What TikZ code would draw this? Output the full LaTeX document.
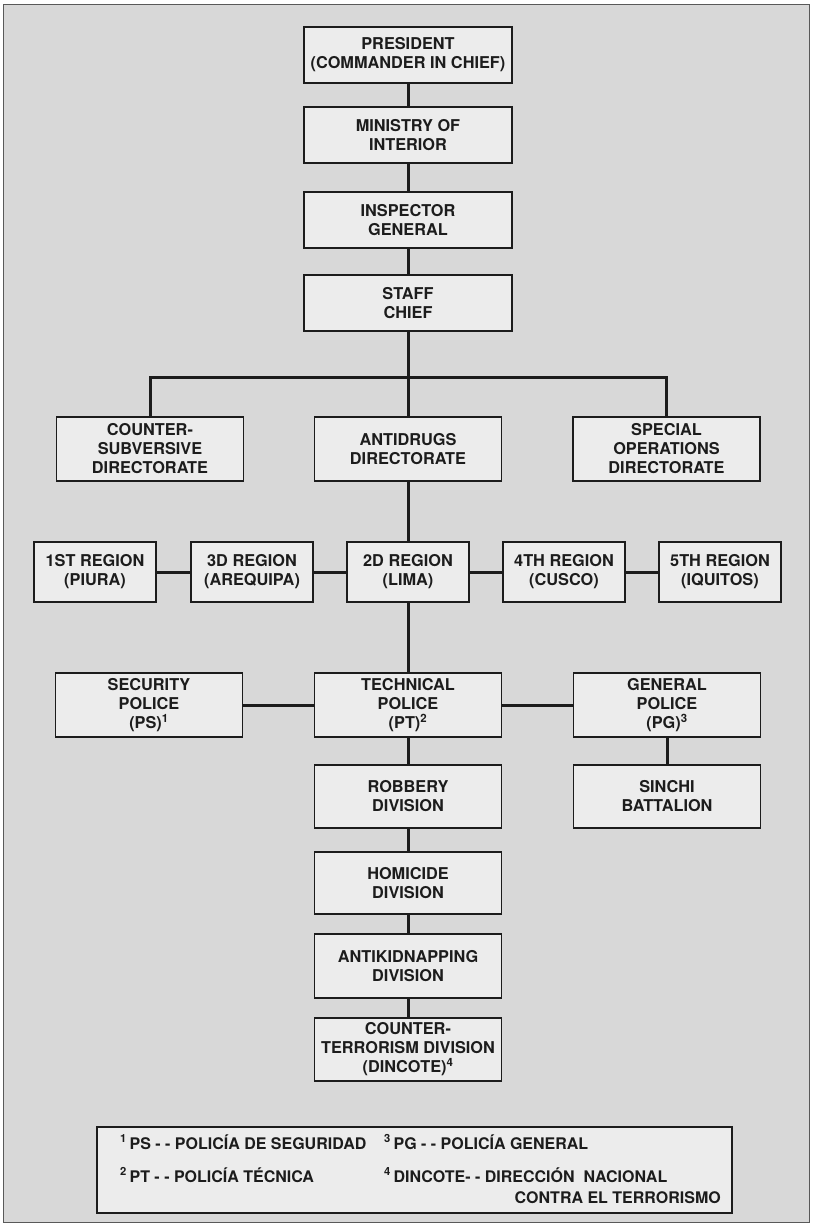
\documentclass[tikz,border=0pt]{standalone}
\usepackage{fontspec}
\setmainfont{TeX Gyre Heros}
\definecolor{bg}{RGB}{216,216,216}
\definecolor{boxfill}{RGB}{236,236,236}
\definecolor{ink}{RGB}{28,28,28}
\begin{document}
\begin{tikzpicture}[x=1pt,y=-1pt,
  box/.style={draw=ink, line width=1.6pt, fill=boxfill, align=center, inner sep=0pt,
    font=\fontsize{16.3}{19}\selectfont\bfseries, text=ink},
  wide/.style={box, minimum width=208pt, minimum height=56pt},
  mid/.style={box, minimum width=187pt},
  reg/.style={box, minimum width=122pt, minimum height=60pt},
  conn/.style={line width=3pt, draw=ink},
  lgtext/.style={font=\fontsize{16}{19}\selectfont\bfseries, text=ink, inner sep=0pt},
]
\useasboundingbox (0,0) rectangle (814,1226);
\fill[white] (0,0) rectangle (814,1226);
\draw[fill=bg, draw=black!65, line width=0.9pt] (3,4) rectangle (809,1222);

% top column
\node[wide] (pres) at (408,55) {PRESIDENT\\(COMMANDER IN CHIEF)};
\node[wide] (min) at (408,135) {MINISTRY OF\\INTERIOR};
\node[wide] (insp) at (408,220) {INSPECTOR\\GENERAL};
\node[wide] (staff) at (408,303) {STAFF\\CHIEF};

% directorates
\node[mid, minimum height=64pt] (cs) at (150,449) {COUNTER-\\SUBVERSIVE\\DIRECTORATE};
\node[mid, minimum height=64pt] (ad) at (408,449) {ANTIDRUGS\\DIRECTORATE};
\node[mid, minimum height=64pt] (sp) at (666.5,449) {SPECIAL\\OPERATIONS\\DIRECTORATE};

% regions
\node[reg] (r1) at (95,572) {1ST REGION\\(PIURA)};
\node[reg] (r3) at (252,572) {3D REGION\\(AREQUIPA)};
\node[reg] (r2) at (408,572) {2D REGION\\(LIMA)};
\node[reg] (r4) at (564,572) {4TH REGION\\(CUSCO)};
\node[reg] (r5) at (720,572) {5TH REGION\\(IQUITOS)};

% police
\node[mid, minimum height=64pt] (sec) at (149,705) {SECURITY\\POLICE\\(PS)\textsuperscript{1}};
\node[mid, minimum height=64pt] (tech) at (408,705) {TECHNICAL\\POLICE\\(PT)\textsuperscript{2}};
\node[mid, minimum height=64pt] (gen) at (667,705) {GENERAL\\POLICE\\(PG)\textsuperscript{3}};

% divisions
\node[mid, minimum height=63pt] (rob) at (408,796.5) {ROBBERY\\DIVISION};
\node[mid, minimum height=63pt] (sin) at (667,796.5) {SINCHI\\BATTALION};
\node[mid, minimum height=62pt] (hom) at (408,883) {HOMICIDE\\DIVISION};
\node[mid, minimum height=64pt] (ak) at (408,966) {ANTIKIDNAPPING\\DIVISION};
\node[mid, minimum height=63pt] (ct) at (408,1049.5) {COUNTER-\\TERRORISM DIVISION\\(DINCOTE)\textsuperscript{4}};

% connectors
\draw[conn] (pres) -- (min);
\draw[conn] (min) -- (insp);
\draw[conn] (insp) -- (staff);
\coordinate (bus) at (408,377);
\draw[conn] (staff.south) -- (ad.north);
\draw[conn] (cs.north) -- (cs.north |- bus) -- (sp.north |- bus) -- (sp.north);
\draw[conn] (ad) -- (r2);
\draw[conn] (r1) -- (r3);
\draw[conn] (r3) -- (r2);
\draw[conn] (r2) -- (r4);
\draw[conn] (r4) -- (r5);
\draw[conn] (r2) -- (tech);
\draw[conn] (sec) -- (tech);
\draw[conn] (tech) -- (gen);
\draw[conn] (gen) -- (sin);
\draw[conn] (tech) -- (rob);
\draw[conn] (rob) -- (hom);
\draw[conn] (hom) -- (ak);
\draw[conn] (ak) -- (ct);

% legend
\node[draw=ink, line width=1.5pt, fill=boxfill, minimum width=635pt, minimum height=86pt, inner sep=0pt] (legend) at (414.5,1170) {};
\node[lgtext, anchor=base west] (lg1) at (120,1149) {\textsuperscript{1}\,PS - - POLICÍA DE SEGURIDAD};
\node[lgtext, anchor=base west] (lg2) at (120,1182) {\textsuperscript{2}\,PT - - POLICÍA TÉCNICA};
\node[lgtext, anchor=base west] (lg3) at (384,1149) {\textsuperscript{3}\,PG - - POLICÍA GENERAL};
\node[lgtext, anchor=base west] (lg4) at (384,1182) {\textsuperscript{4}\,DINCOTE- - DIRECCIÓN\ \ NACIONAL};
\node[lgtext, anchor=base east] (lg5) at (721,1203) {CONTRA EL TERRORISMO};
\end{tikzpicture}
\end{document}
